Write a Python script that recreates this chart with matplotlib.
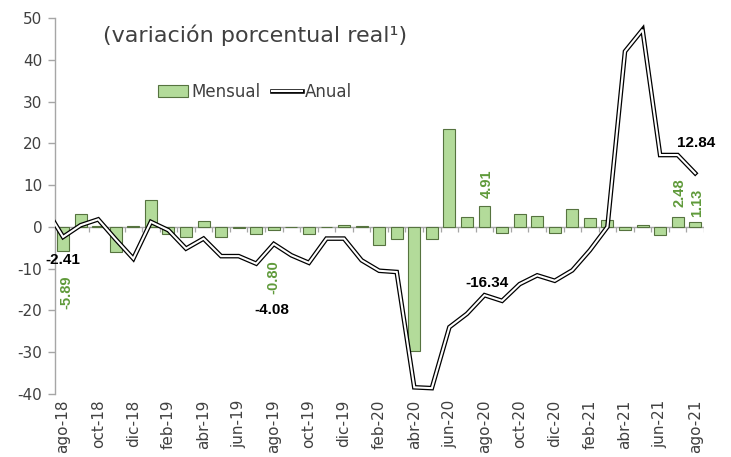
import numpy as np
import matplotlib
matplotlib.use('Agg')
import matplotlib.pyplot as plt
from matplotlib.lines import Line2D
from matplotlib.patches import Patch

# ---- data ----
months = ['jul-18', 'ago-18', 'sep-18', 'oct-18', 'nov-18', 'dic-18', 'ene-19',
          'feb-19', 'mar-19', 'abr-19', 'may-19', 'jun-19', 'jul-19', 'ago-19',
          'sep-19', 'oct-19', 'nov-19', 'dic-19', 'ene-20', 'feb-20', 'mar-20',
          'abr-20', 'may-20', 'jun-20', 'jul-20', 'ago-20', 'sep-20', 'oct-20',
          'nov-20', 'dic-20', 'ene-21', 'feb-21', 'mar-21', 'abr-21', 'may-21',
          'jun-21', 'jul-21', 'ago-21']

mensual = [np.nan, -5.89, 3.2, 0.2, -6.0, 0.2, 6.4, -1.6, -2.4, 1.45, -2.5, -0.2,
           -1.8, -0.80, -0.1, -1.6, -0.1, 0.4, 0.3, -4.4, -2.8, -29.7, -2.8, 23.4,
           2.4, 4.91, -1.4, 3.0, 2.6, -1.4, 4.2, 2.2, 1.6, -0.8, 0.4, -2.0, 2.48, 1.13]

anual = [4.5, -2.41, 0.4, 1.8, -3.0, -7.6, 1.2, -0.8, -5.2, -2.8, -7.0, -7.0,
         -8.8, -4.08, -6.8, -8.6, -2.8, -2.8, -8.0, -10.5, -10.8, -38.4, -38.6,
         -24.0, -20.8, -16.34, -17.7, -13.7, -11.6, -12.9, -10.4, -5.6, 0.0,
         42.0, 47.2, 17.2, 17.2, 12.84]

tick_labels = months[1::2]
yticks = [-40, -30, -20, -10, 0, 10, 20, 30, 40, 50]

# labelled points
mensual_labels = [('ago-18', '-5.89'), ('ago-19', '-0.80'), ('ago-20', '4.91'),
                  ('jul-21', '2.48'), ('ago-21', '1.13')]
anual_labels = [('ago-18', '-2.41'), ('ago-19', '-4.08'), ('ago-20', '-16.34'),
                ('ago-21', '12.84')]

# ---- style ----
bar_face = '#b3db9a'
bar_edge = '#56733f'
green_txt = '#5f9a3a'
txt_col = '#404040'
axis_col = '#a6a6a6'

fig = plt.figure(figsize=(7.31, 4.57), dpi=100)
ax = fig.add_axes([55 / 731, 63 / 457, 649 / 731, 376 / 457])

x = np.arange(len(months))
ax.bar(x, mensual, width=0.68, color=bar_face, edgecolor=bar_edge, linewidth=0.8,
       zorder=2)
ax.axhline(0, color=axis_col, lw=1.0, zorder=1)
ax.vlines(np.arange(1, len(months)) + 0.5, -1.3, 0, color=axis_col, lw=0.9, zorder=1)

ax.plot(x, anual, color='black', lw=3.3, solid_joinstyle='miter', zorder=3)
ax.plot(x, anual, color='white', lw=1.5, solid_joinstyle='miter', zorder=4)

ax.set_xlim(0.54, len(months) - 0.5)
ax.set_ylim(-40, 50)
ax.set_yticks(yticks)
ax.set_yticklabels([str(v) for v in yticks], fontsize=11, color=txt_col)
ax.set_xticks(x[1::2])
ax.set_xticklabels(tick_labels, rotation=90, fontsize=11, color=txt_col,
                   va='top')
ax.tick_params(axis='x', length=0, pad=4)
ax.tick_params(axis='y', length=5, color=axis_col, width=1, pad=4)

for s in ['top', 'right', 'bottom']:
    ax.spines[s].set_visible(False)
ax.spines['left'].set_color(axis_col)
ax.spines['left'].set_linewidth(1.0)

PX = 0.72  # points per pixel
m_off = {'-5.89': (3, -41), '-0.80': (0, -47), '4.91': (2, 23),
         '2.48': (2, 24), '1.13': (2, 19)}
for mon, lab in mensual_labels:
    i = months.index(mon)
    dx, dy = m_off[lab]
    ax.annotate(lab, (i, mensual[i]), xytext=(dx * PX, dy * PX),
                textcoords='offset points', ha='center', va='center',
                rotation=90, fontsize=10.5, fontweight='bold', color=green_txt,
                family='Liberation Sans', zorder=6)

a_off = {'-2.41': (0, -23), '-4.08': (-2, -66), '-16.34': (2, 12.5),
         '12.84': (1, 30)}
for mon, lab in anual_labels:
    i = months.index(mon)
    dx, dy = a_off[lab]
    ax.annotate(lab, (i, anual[i]), xytext=(dx * PX, dy * PX),
                textcoords='offset points', ha='center', va='center',
                fontsize=11, fontweight='bold', color='black',
                family='Liberation Sans', zorder=6)

# legend
h_bar = Patch(facecolor=bar_face, edgecolor=bar_edge, linewidth=0.8)
h_line = (Line2D([], [], color='black', lw=3.3), Line2D([], [], color='white', lw=1.5))
leg = ax.legend([h_bar, h_line], ['Mensual', 'Anual'], loc='center',
                bbox_to_anchor=(0.308, 0.803), ncol=2, frameon=False,
                fontsize=12, handlelength=1.8, handletextpad=0.2,
                columnspacing=0.7)
for t in leg.get_texts():
    t.set_color(txt_col)

fig.text(103 / 731, 1 - 35 / 457, '(variación porcentual real¹)', fontsize=16,
         color=txt_col, ha='left', va='center')

fig.savefig('out.png', dpi=100)
